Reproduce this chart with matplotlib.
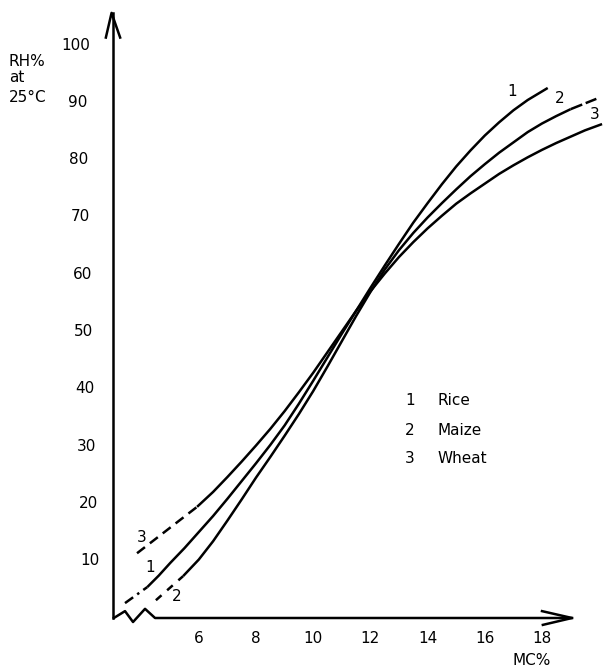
import matplotlib
matplotlib.use("Agg")
import matplotlib.pyplot as plt

# ---- data (MC % vs RH % at 25 C) ----
rice_lead_x = [3.42, 4.2]
rice_lead_y = [2.6, 5.4]
rice_x = [4.2, 4.6, 5.0, 5.5, 6.0, 6.5, 7.0, 7.5, 8.0, 8.5, 9.0, 9.5, 10.0, 10.5, 11.0,
          11.5, 12.0, 12.5, 13.0, 13.5, 14.0, 14.5, 15.0, 15.5, 16.0, 16.5, 17.0, 17.5, 18.2]
rice_y = [5.4, 7.4, 9.6, 12.2, 15.0, 17.8, 20.8, 23.9, 27.0, 30.2, 33.6, 37.4, 41.4, 45.5, 49.6,
          53.6, 57.6, 61.5, 65.3, 69.0, 72.4, 75.7, 78.8, 81.6, 84.2, 86.5, 88.6, 90.4, 92.5]

maize_lead_x = [4.5, 5.45]
maize_lead_y = [3.1, 7.3]
maize_x = [5.45, 6.0, 6.5, 7.0, 7.5, 8.0, 8.5, 9.0, 9.5, 10.0, 10.5, 11.0, 11.5, 12.0, 12.5,
           13.0, 13.5, 14.0, 14.5, 15.0, 15.5, 16.0, 16.5, 17.0, 17.5, 18.0, 18.5, 19.0]
maize_y = [7.3, 10.2, 13.4, 17.0, 20.7, 24.5, 28.1, 31.8, 35.6, 39.6, 43.9, 48.3, 52.7, 56.9, 60.8,
           64.2, 67.2, 69.9, 72.4, 74.8, 77.1, 79.2, 81.2, 83.0, 84.8, 86.3, 87.6, 88.8]
maize_tail_x = [19.0, 19.5, 19.9]
maize_tail_y = [88.8, 89.8, 90.6]

wheat_lead_x = [3.84, 5.94]
wheat_lead_y = [11.3, 19.4]
wheat_x = [5.94, 6.5, 7.0, 7.5, 8.0, 8.5, 9.0, 9.5, 10.0, 10.5, 11.0, 11.5, 12.0, 12.5, 13.0,
           13.5, 14.0, 14.5, 15.0, 15.5, 16.0, 16.5, 17.0, 17.5, 18.0, 18.5, 19.0, 19.5, 20.1]
wheat_y = [19.4, 22.0, 24.6, 27.3, 30.1, 33.0, 36.1, 39.4, 42.8, 46.4, 50.0, 53.6, 57.0, 60.1, 63.0,
           65.6, 68.0, 70.2, 72.3, 74.1, 75.8, 77.5, 79.0, 80.4, 81.7, 82.9, 84.0, 85.1, 86.2]

x_ticks = [6, 8, 10, 12, 14, 16, 18]
y_ticks = [10, 20, 30, 40, 50, 60, 70, 80, 90, 100]
legend_nums = ["1", "2", "3"]
legend_names = ["Rice", "Maize", "Wheat"]

# ---- figure ----
W, H = 605, 668
fig = plt.figure(figsize=(W / 100, H / 100), dpi=100)
ax = fig.add_axes([0, 0, 1, 1])
# pixel mapping: x=3 at px 113, 28.6 px/unit; y=0 at py 618, 5.73 px/unit
x0px, xs = 113, 28.6
y0px, ys = 618, 5.73
ax.set_xlim(3 - x0px / xs, 3 + (W - x0px) / xs)
ax.set_ylim(-(H - y0px) / ys, y0px / ys)
ax.axis("off")

lw = 1.8
k = "black"
fs = 11
font = dict(family="DejaVu Sans", fontsize=fs, color=k)
cs = dict(color=k, lw=lw, solid_joinstyle="round", solid_capstyle="butt")

# curves
ax.plot(rice_lead_x, rice_lead_y, color=k, lw=lw, ls=(0, (4, 2, 1, 2)))
ax.plot(rice_x, rice_y, **cs)
ax.plot(maize_lead_x, maize_lead_y, color=k, lw=lw, ls=(0, (3, 3)))
ax.plot(maize_x, maize_y, **cs)
ax.plot(maize_tail_x, maize_tail_y, color=k, lw=lw, ls=(0, (5, 1.5)))
ax.plot(wheat_lead_x, wheat_lead_y, color=k, lw=lw, ls=(0, (4, 2.5)))
ax.plot(wheat_x, wheat_y, **cs)

# axes lines
ax.plot([3, 3], [0, 105.6], color=k, lw=lw, clip_on=False)
ax.plot([2.75, 2.95, 3.25], [101.3, 105.6, 101.3], color=k, lw=lw, clip_on=False)
ax.plot([3.03, 3.42, 3.70, 4.12, 4.47, 19.05], [0, 1.2, -0.7, 1.6, 0, 0], color=k, lw=lw, clip_on=False)
ax.plot([18.0, 19.05, 18.03], [1.2, 0, -1.2], color=k, lw=lw, clip_on=False)

# tick labels
for v in y_ticks:
    px = 76 + (100 - v) / 90 * 14
    ax.text(3 + (px - x0px) / xs, v, str(v), ha="center", va="center", **font)
for v in x_ticks:
    ax.text(v, -3.5, str(v), ha="center", va="center", **font)

# axis titles
ax.text(3 + (9 - x0px) / xs, (618 - 62) / ys, "RH%", ha="left", va="center", **font)
ax.text(3 + (9 - x0px) / xs, (618 - 78) / ys, "at", ha="left", va="center", **font)
ax.text(3 + (9 - x0px) / xs, (618 - 98) / ys, "25°C", ha="left", va="center", **font)
ax.text(17.65, -7.33, "MC%", ha="center", va="center", **font)

# curve labels
ax.text(16.95, 91.8, "1", ha="center", va="center", **font)
ax.text(18.63, 90.75, "2", ha="center", va="center", **font)
ax.text(19.85, 87.8, "3", ha="center", va="center", **font)
ax.text(4.01, 14.0, "3", ha="center", va="center", **font)
ax.text(4.29, 8.9, "1", ha="center", va="center", **font)
ax.text(5.24, 3.7, "2", ha="center", va="center", **font)

# legend
for i, (n, name) in enumerate(zip(legend_nums, legend_names)):
    yy = [37.9, 32.8, 27.9][i]
    ax.text(13.38, yy, n, ha="center", va="center", **font)
    ax.text(14.33, yy, name, ha="left", va="center", **font)

fig.savefig("out.png", dpi=100)
